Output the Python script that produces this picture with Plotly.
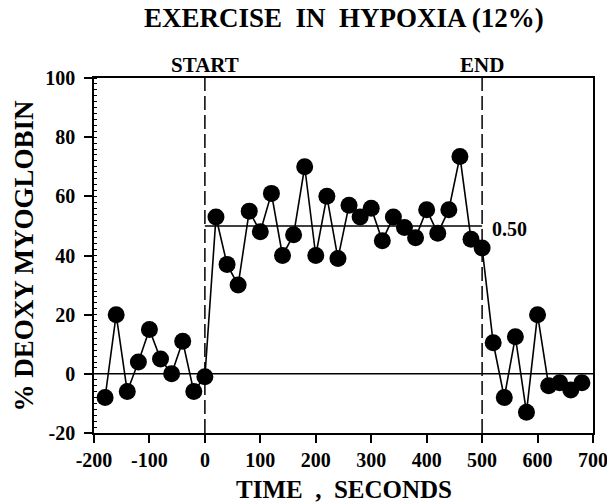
import plotly.graph_objects as go

# Data
time_s = [-180, -160, -140, -120, -100, -80, -60, -40, -20, 0,
          20, 40, 60, 80, 100, 120, 140, 160, 180, 200,
          220, 240, 260, 280, 300, 320, 340, 360, 380, 400,
          420, 440, 460, 480, 500,
          520, 540, 560, 580, 600, 620, 640, 660, 680]
deoxy_pct = [-8, 20, -6, 4, 15, 5, 0, 11, -6, -1,
             53, 37, 30, 55, 48, 61, 40, 47, 70, 40,
             60, 39, 57, 53, 56, 45, 53, 49.5, 46, 55.5,
             47.5, 55.5, 73.5, 45.5, 42.5,
             10.5, -8, 12.5, -13, 20, -4, -3, -5.5, -3]

start_t = 0
end_t = 500
level = 50
level_label = "0.50"
x_ticks = [-200, -100, 0, 100, 200, 300, 400, 500, 600, 700]
x_ticktext = ["-200", "-100", "0", "100", "200", "300", "400", "500", "600", "700"]
y_ticks = [-20, 0, 20, 40, 60, 80, 100]
y_ticktext = ["-20", "0", "20", "40", "60", "80", "100"]
x_range = [-200, 700.01]
y_range = [-20, 100]

FONT = "Liberation Serif"

fig = go.Figure()
fig.add_trace(go.Scatter(
    x=time_s, y=deoxy_pct, mode="lines+markers",
    line=dict(color="black", width=1.6),
    marker=dict(color="black", size=17),
    showlegend=False, cliponaxis=False,
))

# baseline and exercise level
fig.add_shape(type="line", xref="x", yref="y", x0=x_range[0], x1=x_range[1], y0=0, y1=0,
              line=dict(color="black", width=1.5), layer="below")
fig.add_shape(type="line", xref="x", yref="y", x0=start_t, x1=end_t, y0=level, y1=level,
              line=dict(color="black", width=1.5), layer="below")
for t in (start_t, end_t):
    fig.add_shape(type="line", xref="x", yref="y", x0=t, x1=t, y0=y_range[0], y1=y_range[1],
                  line=dict(color="black", width=1.5, dash="14px,5px"), layer="below")

def txt(s, size):
    return dict(text="<b>" + s + "</b>", showarrow=False, borderpad=0,
                font=dict(family=FONT, size=size, color="black"))

fig.add_annotation(x=start_t, y=1, xref="x", yref="paper", yanchor="bottom", yshift=0,
                   **txt("START", 21))
fig.add_annotation(x=end_t, y=1, xref="x", yref="paper", yanchor="bottom", yshift=0,
                   **txt("END", 21))
fig.add_annotation(x=end_t, y=level, xref="x", yref="y", xanchor="left", xshift=9, yshift=-3,
                   **txt(level_label, 20))
fig.add_annotation(x=0.5, y=1, xref="paper", yref="paper", yanchor="middle", yshift=60,
                   **txt("EXERCISE  IN  HYPOXIA (12%)", 27))
fig.add_annotation(x=0.5, y=0, xref="paper", yref="paper", yanchor="middle", yshift=-56,
                   **txt("TIME  ,  SECONDS", 25))
fig.add_annotation(x=0, y=0.5, xref="paper", yref="paper", xanchor="center", xshift=-71,
                   textangle=-90, **txt("% DEOXY MYOGLOBIN", 27))

axis_common = dict(showline=True, linecolor="black", linewidth=1.5, mirror=True,
                   showgrid=False, zeroline=False, ticks="outside", ticklen=8,
                   tickwidth=1.5, tickcolor="black", automargin=False,
                   ticklabeloverflow="allow",
                   tickfont=dict(family=FONT, size=20, color="black", weight="bold"))

fig.update_layout(
    width=607, height=504,
    margin=dict(l=94, r=14, t=78, b=71),
    paper_bgcolor="white", plot_bgcolor="white",
    xaxis=dict(range=x_range, tickvals=x_ticks, ticktext=x_ticktext, **axis_common),
    yaxis=dict(range=y_range, tickvals=y_ticks, ticktext=y_ticktext, ticklabelstandoff=5,
               minor=dict(dtick=2, ticks="inside", ticklen=3, tickcolor="black", tickwidth=1.2),
               **axis_common),
)

# remove the browser's default page margin so the figure fills the window
fig.write_html("out.html",
               config={"displayModeBar": False},
               post_script="document.body.style.margin='0';document.body.style.overflow='hidden';")
